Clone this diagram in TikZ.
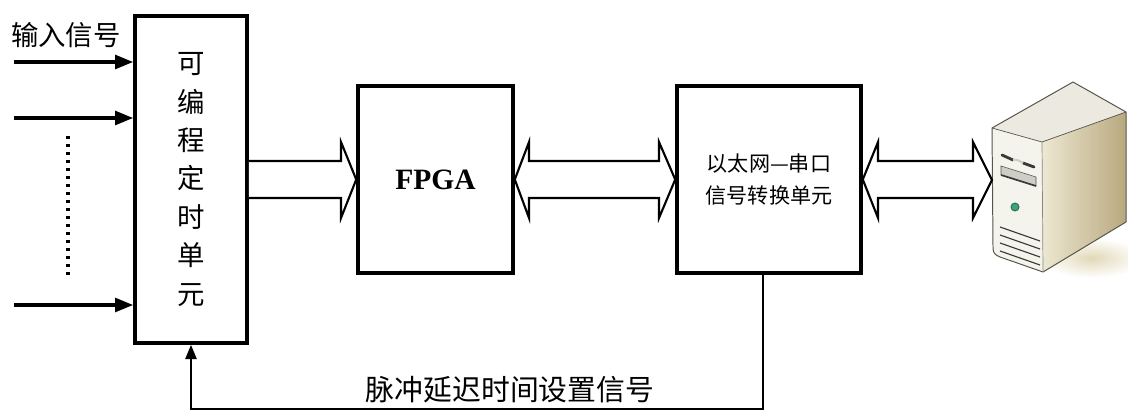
\documentclass[tikz,border=0pt]{standalone}
\usepackage{fontspec}
\setmainfont{Liberation Serif}
\newfontfamily\cjk{Noto Sans CJK SC}
\usepackage{xcolor}
\usetikzlibrary{arrows.meta}

\definecolor{pcfront}{HTML}{F4F3EC}
\definecolor{pctop}{HTML}{ECEAE0}
\definecolor{pcsideA}{HTML}{EDE8D2}
\definecolor{pcsideB}{HTML}{B8A87E}
\definecolor{pcshadow}{HTML}{E2D8B8}
\definecolor{pcedge}{HTML}{55554C}
\definecolor{pcdark}{HTML}{3A3A36}
\definecolor{pcbay}{HTML}{CFCEC6}
\definecolor{pcgreen}{HTML}{3FA37A}
\definecolor{pcgreenD}{HTML}{23664A}

\tikzset{
  unit/.style={draw, line width=2.5pt, fill=white, inner sep=0pt},
  insig/.style={line width=2.4pt, -{Triangle[length=0.45cm,width=0.34cm]}},
  bus/.style={draw, line width=1.5pt, fill=white},
  setsig/.style={line width=1.6pt, -{Triangle[length=0.36cm,width=0.28cm]}}
}

\begin{document}
\begin{tikzpicture}[x=0.025cm,y=-0.025cm]
\useasboundingbox (0,0) rectangle (1128,413);

% blocks
\node [unit, minimum width=2.8cm, minimum height=8.175cm, align=center,
       font=\cjk\fontsize{19.5}{27.3}\selectfont] (timer) at (191,179.5) {可\\编\\程\\定\\时\\单\\元};
\node [unit, minimum width=3.875cm, minimum height=4.675cm,
       font=\bfseries\fontsize{21}{24}\selectfont] (fpga) at (435.5,179.5) {FPGA};
\node [unit, minimum width=4.6cm, minimum height=4.675cm, align=center,
       font=\cjk\fontsize{15}{22.7}\selectfont] (eth) at (769,179.5) {以太网—串口\\信号转换单元};

% input lines
\node [font=\cjk\fontsize{19.5}{22}\selectfont] (inlbl) at (66,35) {输入信号};
\coordinate (in1) at (14,62);
\coordinate (in2) at (14,118);
\coordinate (in3) at (14,305);
\foreach \c in {in1,in2,in3}
  \draw [insig] (\c) -- (timer.west |- \c);
\draw [line width=2.3pt, dash pattern=on 2.3pt off 3.4pt] (68,136) -- (68,275);

% server
\shade [inner color=pcshadow, outer color=white] (1092,258) ellipse (52 and 20);
\fill [pctop] (992,128) -- (1073,82) -- (1126,112) -- (1042,142) -- cycle;
\shade [left color=pcsideA, right color=pcsideB] (1042,142) -- (1126,112) -- (1126,222) -- (1043,272) -- cycle;
\fill [pcfront] (992,128) -- (1042,142) -- (1043,272) -- (1000,257) .. controls (995,255) and (993,253) .. (993,248) -- cycle;
\draw [pcedge, line width=.7pt, line join=round] (992,128) -- (1073,82) -- (1126,112) -- (1126,222) -- (1043,272)
  -- (1000,257) .. controls (995,255) and (993,253) .. (993,248) -- cycle;
\draw [pcedge, line width=.5pt] (992,128) -- (1042,142) -- (1126,112);
\draw [pcedge!70, line width=.5pt] (1042,142) -- (1043,272);
\draw [pcdark, line width=2pt, line cap=round] (1002,155) -- (1013,160);
\draw [pcdark, line width=2pt, line cap=round] (1023,163) -- (1034,167);
\draw [pcbay, line width=1.5pt] (1013,160) .. controls (1017,159) and (1020,161) .. (1023,163);
\filldraw [fill=pcbay, draw=pcedge, line width=.4pt] (1001,166) -- (1036,177) -- (1036,186) -- (1001,175) -- cycle;
\draw [pcdark, line width=1.2pt] (1001,175) -- (1036,186);
\filldraw [fill=pcgreen, draw=pcgreenD, line width=.6pt] (1015,207) circle (4);
\foreach \v in {0,8,16,24}
  \draw [pcdark, line width=.8pt] (1000,227+\v) -- (1040,241+\v);
\coordinate (pc) at (992,180);

% wide data paths
\draw [bus] (timer.east |- 0,161) -- (341,161) -- (341,142) -- (fpga.west) -- (341,218) -- (341,198) -- (timer.east |- 0,198);
\draw [bus] (fpga.east) -- (529,142) -- (529,161) -- (659,161) -- (659,142) -- (eth.west)
  -- (659,218) -- (659,198) -- (529,198) -- (529,218) -- cycle;
\draw [bus] (eth.east) -- (878,142) -- (878,161) -- (973,161) -- (973,142) -- (pc)
  -- (973,218) -- (973,198) -- (878,198) -- (878,218) -- cycle;

% delay setting back to the timer
\draw [setsig] (eth.south -| 763,0) |- (timer.south |- 0,409) -- (timer.south);
\node [font=\cjk\fontsize{20.5}{24}\selectfont] (setlbl) at (510,390) {脉冲延迟时间设置信号};
\end{tikzpicture}
\end{document}
